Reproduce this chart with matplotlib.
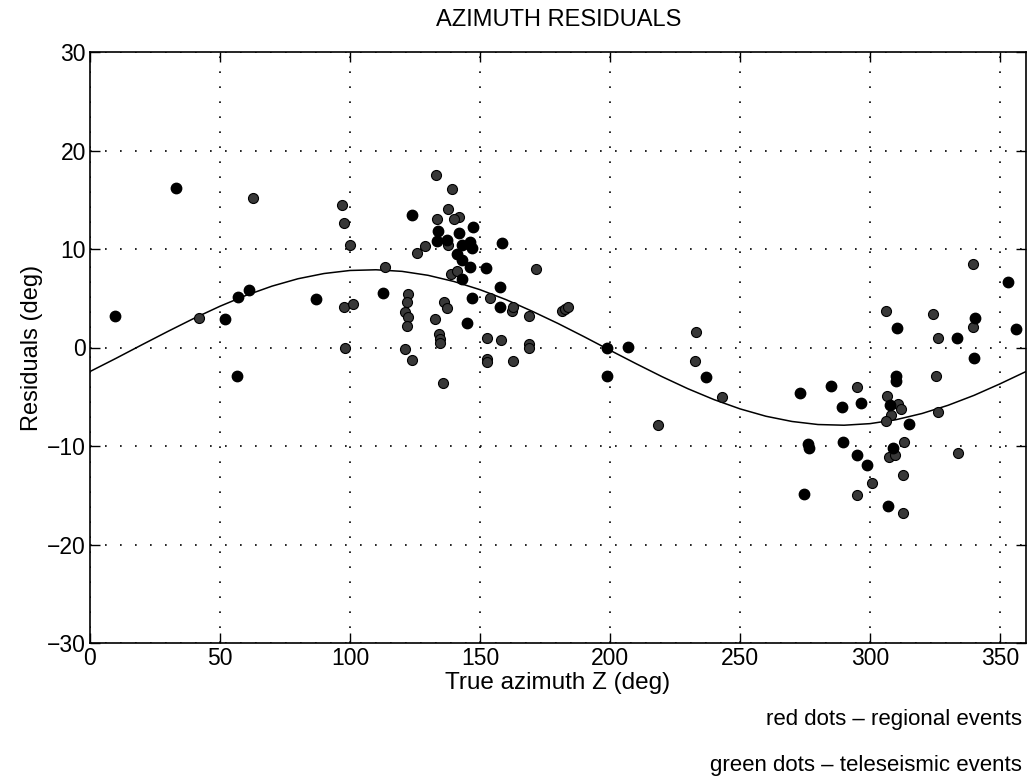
import matplotlib
matplotlib.use('Agg')
from matplotlib import pyplot as plt
import numpy as np

# regional events (solid dots)
reg_az = [9.5, 33.1, 51.8, 56.9, 61.3, 56.7, 86.9, 112.5, 123.8, 134, 142, 147.2,
          133.4, 137.2, 143, 146.2, 146.8, 158.4, 141.1, 143, 146.1, 152.3, 143,
          157.7, 147.1, 157.7, 144.9, 198.7, 198.7, 206.8, 236.9, 273, 285.1,
          289.2, 296.7, 276.2, 276.5, 289.6, 295.1, 298.8, 274.6, 306.9, 310.3,
          310.1, 310.1, 307.6, 315, 308.8, 333.4, 340, 353, 356.2, 340.5]
reg_res = [3.2, 16.2, 2.9, 5.1, 5.8, -2.9, 4.9, 5.5, 13.5, 11.8, 11.6, 12.2,
           10.8, 10.9, 10.4, 10.7, 10.1, 10.6, 9.5, 8.9, 8.2, 8.1, 7.0,
           6.1, 5.0, 4.1, 2.5, -0.1, -2.9, 0.1, -3.0, -4.6, -3.9,
           -6.0, -5.6, -9.8, -10.2, -9.6, -10.9, -11.9, -14.9, -16.1, 2.0,
           -2.9, -3.4, -5.8, -7.8, -10.2, 1.0, -1.1, 6.6, 1.9, 3.0]

# teleseismic events (speckled dots)
tel_az = [62.7, 97.1, 97.5, 100, 113.5, 42, 97.8, 101, 98.2, 121.2, 123.8,
          122.4, 121.8, 121.2, 122.4, 121.8, 133.2, 139.3, 137.5, 133.6, 141.8,
          140.1, 137.5, 128.9, 125.9, 138.8, 141.1, 171.5, 136.2, 137.2, 153.9,
          162.2, 162.8, 168.8, 181.4, 182.7, 184, 132.8, 134.3, 134.6, 134.6,
          152.6, 158, 168.7, 168.7, 152.6, 152.6, 162.6, 135.9, 232.9, 232.6,
          242.9, 218.5, 295.1, 295.1, 300.9, 312.6, 306, 306.5, 310.7, 312,
          308.2, 306, 307.2, 309.8, 313, 312.6, 324.2, 326.1, 325.2, 326.1,
          333.8, 339.8, 339.6]
tel_res = [15.2, 14.5, 12.6, 10.4, 8.2, 3.0, 4.1, 4.4, 0.0, -0.2, -1.3,
           5.4, 4.6, 3.6, 3.1, 2.2, 17.5, 16.1, 14.1, 13.0, 13.2,
           13.0, 10.4, 10.3, 9.6, 7.5, 7.8, 8.0, 4.6, 4.0, 5.0,
           3.7, 4.1, 3.2, 3.7, 3.9, 4.1, 2.9, 1.4, 0.9, 0.5,
           1.0, 0.8, 0.4, 0.0, -1.2, -1.5, -1.4, -3.6, 1.6, -1.4,
           -5.0, -7.9, -4.0, -15.0, -13.8, -16.8, 3.7, -4.9, -5.7, -6.2,
           -6.9, -7.5, -11.1, -10.9, -9.6, -12.9, 3.4, 1.0, -2.9, -6.5,
           -10.7, 8.5, 2.1]

# fitted curve, read every 10 deg
fit_az = list(range(0, 361, 10))
fit_res = [-2.44, -1.10, 0.28, 1.64, 2.96, 4.19, 5.29, 6.23, 6.98, 7.51, 7.82,
           7.89, 7.73, 7.33, 6.70, 5.87, 4.86, 3.69, 2.44, 1.10, -0.28, -1.64,
           -2.96, -4.19, -5.29, -6.23, -6.98, -7.51, -7.82, -7.89, -7.73,
           -7.33, -6.70, -5.87, -4.86, -3.69, -2.44]

plt.rcParams['font.family'] = ['Liberation Sans', 'DejaVu Sans']

fig = plt.figure(figsize=(10.28, 7.83), dpi=100)
ax = fig.add_axes([90 / 1028, 1 - 643 / 783, 936 / 1028, 591 / 783])

ax.plot(fit_az, fit_res, color='black', lw=1.1, zorder=2)
ax.scatter(tel_az, tel_res, s=52, facecolor='#383838', edgecolor='black',
           linewidth=0.8, zorder=3)
ax.scatter(reg_az, reg_res, s=56, color='black', zorder=4)

ax.set_xlim(0, 360)
ax.set_ylim(-30, 30)
ax.set_xticks(np.arange(0, 351, 50))
ax.set_yticks(np.arange(-30, 31, 10))
ax.grid(True, color='black', linestyle=(0, (1, 8)), linewidth=1.2)
ax.tick_params(direction='in', length=7, top=True, right=True,
               labelsize=16.5, pad=3, width=1)
for s in ax.spines.values():
  s.set_linewidth(1.2)

fig.text(559 / 1028, 1 - 20 / 783, 'AZIMUTH RESIDUALS', ha='center',
         va='center', fontsize=17)
ax.set_xlabel('True azimuth Z (deg)', fontsize=17.5, labelpad=1)
ax.set_ylabel('Residuals (deg)', fontsize=17, labelpad=3)
fig.text(1022 / 1028, 1 - 719 / 783, 'red dots \u2013 regional events',
         ha='right', va='center', fontsize=16)
fig.text(1022 / 1028, 1 - 766 / 783, 'green dots \u2013 teleseismic events',
         ha='right', va='center', fontsize=16)

fig.savefig('out.png', dpi=100)
plt.close(fig)
